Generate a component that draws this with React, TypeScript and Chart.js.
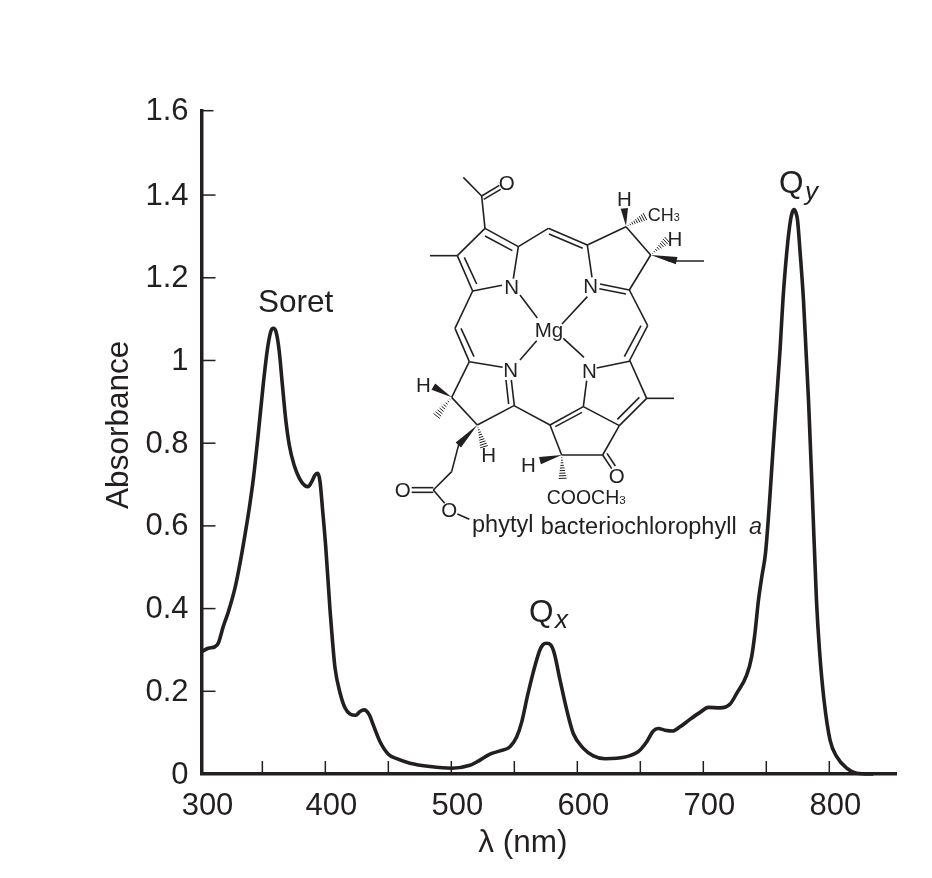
import React, { useEffect, useRef } from "react";
import { Chart, registerables } from "chart.js";

Chart.register(...registerables);

const INK = "#231f20";
const FONT = "'Liberation Sans', Arial, sans-serif";

// Spectrum
const wavelengths = [301.9,307.1,312.5,315.1,319,323,328.3,332.3,336.3,340.2,342.9,346.8,350.8,354.3,356.9,358.7,360.9,363.3,365.9,368.6,371.4,375.2,379.4,383.9,386.5,389.2,391.8,394,395.8,397.6,400.3,403.7,405.6,407.7,411.7,415.6,419.6,424.1,427.5,430.7,434.9,438.1,443.4,450,456.7,467.2,483.1,500.3,514.8,521.4,530.7,538.7,546.6,551.9,555.9,560.3,565.1,569.8,572.5,575.7,578.9,581.7,586.3,591.6,596.8,604.8,612.7,622,631.3,639.2,648.4,655.1,660.3,664.3,669.6,675.7,681.5,689.4,697.4,704,713.2,721.2,726.5,734.4,738.4,741,743.8,746.5,749.4,752.5,755.3,758.1,760.9,763.2,766.4,769.2,770.6,772,773.4,774.8,776.7,779.5,781.5,783.5,786.7,789.8,792.2,795.8,800.6,805.9,813.8,821.8,835];
const absorbance = [0.296,0.304,0.308,0.317,0.357,0.392,0.45,0.51,0.58,0.655,0.715,0.824,0.945,1.033,1.072,1.078,1.069,1.025,0.941,0.856,0.795,0.747,0.715,0.697,0.695,0.707,0.723,0.727,0.707,0.646,0.55,0.397,0.324,0.256,0.196,0.16,0.145,0.142,0.151,0.155,0.143,0.118,0.078,0.048,0.037,0.026,0.018,0.014,0.021,0.031,0.048,0.056,0.066,0.09,0.126,0.187,0.247,0.296,0.312,0.316,0.312,0.292,0.227,0.155,0.098,0.062,0.044,0.037,0.038,0.042,0.054,0.078,0.104,0.11,0.106,0.104,0.114,0.132,0.149,0.161,0.16,0.169,0.195,0.239,0.284,0.341,0.421,0.478,0.535,0.655,0.783,0.904,1.025,1.146,1.267,1.339,1.358,1.365,1.358,1.339,1.267,1.146,1.025,0.904,0.662,0.421,0.3,0.179,0.082,0.042,0.014,0.002,0];

// Axis ticks
const xMin = 301.7;
const xMax = 853.5;
const yMax = 1.604;
const xTickValues = [xMin,350,400,450,500,550,600,650,700,750,800];
const xTickLabels = ["300","","400","","500","","600","","700","","800"];
const yTickValues = [0,0.2,0.4,0.6,0.8,1,1.2,1.4,yMax];
const yTickLabels = ["0","0.2","0.4","0.6","0.8","1","1.2","1.4","1.6"];

// Molecule inset, in drawing units of 1/3 px from an origin
type Seg = [number, number, number, number];
const bonds: Seg[] = [
  [315,205,232,287],[315,205,415,260],[315,228,397,272],[232,287,278,393],[253,292,290,372],
  [278,393,366,376],[415,260,400,356],[232,287,150,287],[315,205,305,108],[305,108,250,52],
  [305,108,358,76],[311,118,362,88],
  [415,260,505,205],[505,205,622,255],[507,222,608,265],
  [622,255,738,200],[738,200,812,285],[812,285,748,390],[622,255,636,352],
  [660,372,748,390],[658,386,738,402],
  [748,390,803,497],[803,497,748,603],[783,497,733,590],
  [278,393,225,505],[225,505,268,605],[243,505,282,590],
  [420,405,472,474],[622,410,546,492],[420,600,470,542],[612,592,550,535],
  [268,605,368,622],[268,605,215,712],[215,712,292,795],[292,795,402,737],
  [403,737,394,660],[386,732,378,660],
  [402,737,510,795],
  [752,603,650,624],[750,603,800,715],[800,715,718,797],[778,712,712,778],
  [718,797,610,740],[610,740,620,662],[800,715,882,715],
  [610,740,510,795],[606,757,526,800],
  [510,795,545,885],[545,885,668,885],[668,885,718,797],
  [668,885,695,926],[681,880,706,918],
  [865,303,972,303],
  [237,850,215,935],[215,935,160,990],
  [160,983,95,983],[160,997,95,997],[160,990,194,1030],[232,1062,268,1078],
];
const wedges: Seg[] = [
  [738,198,733,145],[812,285,890,302],[215,712,160,680],[292,795,235,855],[545,885,480,902],
];
const hashes: Seg[] = [
  [738,200,795,170],[812,285,862,240],[215,712,170,768],[292,795,312,860],[545,885,548,955],
];
const atoms: [string, number, number][] = [
  ["O",380,70],["N",395,381],["N",632,378],["Mg",507,510],["N",392,630],["N",628,635],
  ["H",733,118],["H",885,237],["H",130,676],["H",326,886],["H",445,916],["O",710,950],
  ["O",68,990],["O",208,1050],
];

const moleculePlugin = {
  id: "molecule",
  afterDraw(chart: any) {
    const ctx = chart.ctx as CanvasRenderingContext2D;
    const X = (v: number) => 380 + v / 3;
    const Y = (v: number) => 160 + v / 3;
    ctx.save();
    ctx.strokeStyle = INK;
    ctx.fillStyle = INK;
    ctx.lineWidth = 1.6;
    ctx.lineCap = "butt";
    for (const [a, b, c, d] of bonds) {
      ctx.beginPath();
      ctx.moveTo(X(a), Y(b));
      ctx.lineTo(X(c), Y(d));
      ctx.stroke();
    }
    for (const [a, b, c, d] of wedges) {
      const dx = c - a, dy = d - b, len = Math.hypot(dx, dy);
      const nx = (-dy / len) * 11, ny = (dx / len) * 11;
      ctx.beginPath();
      ctx.moveTo(X(a), Y(b));
      ctx.lineTo(X(c + nx), Y(d + ny));
      ctx.lineTo(X(c - nx), Y(d - ny));
      ctx.closePath();
      ctx.fill();
    }
    ctx.lineWidth = 1;
    for (const [a, b, c, d] of hashes) {
      const dx = c - a, dy = d - b, len = Math.hypot(dx, dy);
      const n = 9;
      for (let i = 1; i <= n; i++) {
        const t = i / n;
        const w = 12 * t;
        const nx = (-dy / len) * w, ny = (dx / len) * w;
        const px = a + dx * t, py = b + dy * t;
        ctx.beginPath();
        ctx.moveTo(X(px + nx), Y(py + ny));
        ctx.lineTo(X(px - nx), Y(py - ny));
        ctx.stroke();
      }
    }
    ctx.textAlign = "center";
    ctx.textBaseline = "middle";
    ctx.font = `20.5px ${FONT}`;
    for (const [t, a, b] of atoms) ctx.fillText(t, X(a), Y(b) + 1);

    ctx.textBaseline = "alphabetic";
    ctx.textAlign = "left";
    const sub = (main: string, s: string, x: number, y: number, size: number) => {
      ctx.font = `${size}px ${FONT}`;
      ctx.fillText(main, x, y);
      const w = ctx.measureText(main).width;
      ctx.font = `${size * 0.6}px ${FONT}`;
      ctx.fillText(s, x + w, y);
    };
    sub("CH", "3", X(803), Y(183), 18);
    sub("COOCH", "3", X(500), Y(1032), 19.5);
    ctx.font = `23.5px ${FONT}`;
    ctx.fillText("phytyl", X(276), Y(1117));
    ctx.fillText("bacteriochlorophyll", X(482), Y(1122));
    ctx.font = `italic 23.5px ${FONT}`;
    ctx.fillText("a", 749, Y(1122));

    // Band labels
    ctx.font = `31.5px ${FONT}`;
    ctx.fillText("Soret", 258, 312);
    ctx.fillText("Q", 529, 622);
    ctx.fillText("Q", 779, 193);
    ctx.font = `italic 26px ${FONT}`;
    ctx.fillText("x", 555, 628);
    ctx.fillText("y", 805, 200);
    ctx.restore();
  },
};

// Inward tick marks
const inwardTicks = {
  id: "inwardTicks",
  afterDraw(chart: any) {
    const ctx = chart.ctx as CanvasRenderingContext2D;
    const { x, y } = chart.scales;
    const { left, bottom } = chart.chartArea;
    ctx.save();
    ctx.strokeStyle = INK;
    ctx.lineWidth = 1.5;
    for (const t of x.ticks) {
      if (t.value === xMin) continue;
      const p = x.getPixelForValue(t.value);
      ctx.beginPath();
      ctx.moveTo(p, bottom);
      ctx.lineTo(p, bottom - 13);
      ctx.stroke();
    }
    for (const t of y.ticks) {
      if (t.value === 0) continue;
      const p = y.getPixelForValue(t.value);
      ctx.beginPath();
      ctx.moveTo(left, p);
      ctx.lineTo(left + (t.value === yMax ? 12 : 14), p);
      ctx.stroke();
    }
    ctx.restore();
  },
};

export default function App() {
  const ref = useRef<HTMLCanvasElement | null>(null);
  useEffect(() => {
    document.body.style.margin = "0";
    const chart = new Chart(ref.current as HTMLCanvasElement, {
      type: "line",
      data: {
        datasets: [
          {
            label: "Absorbance",
            data: wavelengths.map((w, i) => ({ x: w, y: absorbance[i] })),
            borderColor: INK,
            borderWidth: 3.6,
            pointRadius: 0,
            cubicInterpolationMode: "monotone",
            fill: false,
            clip: false,
          } as any,
        ],
      },
      options: {
        responsive: false,
        animation: false,
        events: [],
        layout: { padding: { top: 110.7, right: 35.3, left: 0, bottom: 0 } },
        plugins: { legend: { display: false }, tooltip: { enabled: false } },
        scales: {
          x: {
            type: "linear",
            min: xMin,
            max: xMax,
            afterBuildTicks: (s: any) => {
              s.ticks = xTickValues.map((value) => ({ value }));
            },
            afterFit: (s: any) => {
              s.height = 104;
            },
            grid: { display: false, drawTicks: false },
            border: { display: true, color: INK, width: 3.5 },
            ticks: {
              autoSkip: false,
              maxRotation: 0,
              minRotation: 0,
              padding: 14,
              labelOffset: 6,
              color: INK,
              font: { family: FONT, size: 31 },
              callback: (_v: any, i: number) => xTickLabels[i],
            },
            title: {
              display: true,
              text: "λ (nm)      ",
              color: INK,
              font: { family: FONT, size: 31.5 },
              padding: { top: 0, bottom: 16 },
            },
          },
          y: {
            type: "linear",
            min: 0,
            max: yMax,
            afterBuildTicks: (s: any) => {
              s.ticks = yTickValues.map((value) => ({ value }));
            },
            afterFit: (s: any) => {
              s.width = 201.5;
            },
            grid: { display: false, drawTicks: false },
            border: { display: true, color: INK, width: 3.5 },
            ticks: {
              autoSkip: false,
              padding: 13,
              labelOffset: 1,
              color: INK,
              font: { family: FONT, size: 31 },
              callback: (_v: any, i: number) => yTickLabels[i],
            },
            title: {
              display: true,
              text: "    Absorbance",
              color: INK,
              font: { family: FONT, size: 31.5 },
              padding: { top: 100, bottom: 0 },
            },
          },
        },
      } as any,
      plugins: [inwardTicks, moleculePlugin],
    });
    return () => chart.destroy();
  }, []);
  return (
    <div style={{ width: 932, height: 878, background: "#fff" }}>
      <canvas ref={ref} width={932} height={878} style={{ display: "block" }} />
    </div>
  );
}
